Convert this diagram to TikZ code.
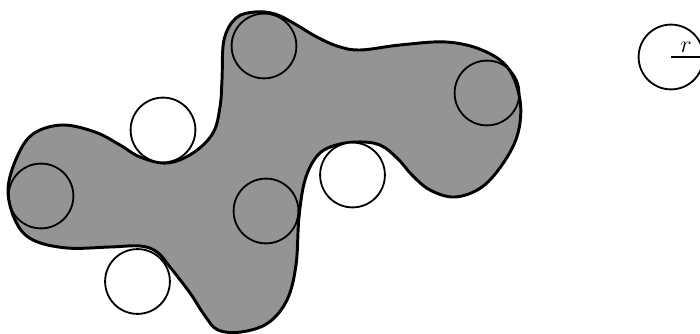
\documentclass[tikz,border=0pt]{standalone}
\begin{document}
\begin{tikzpicture}[
x=0.025cm, y=-0.025cm,
ball/.style={circle,draw,line width=1.3pt,minimum size=1.62cm,inner sep=0pt},
hole/.style={ball,fill=white},
blob/.style={draw,line width=2.1pt,fill=black!42}
]
\useasboundingbox (0,0) rectangle (700,334);
% the region swept out
\path[blob] plot[smooth cycle,tension=0.6] coordinates {
	(224,40) (236,18) (255,12) (275,14) (295,24) (315,36) (337,46) (360,50)
	(400,45) (446,42) (482,50) (508,68) (520,100) (518,133) (504,162)
	(482,187) (455,197) (430,190) (412,175) (398,159) (380,145) (357,142)
	(333,146) (317,156) (305,180) (299,217) (296,265) (287,300) (268,323)
	(241,332) (218,330) (205,316) (190,293) (170,267) (157,252) (140,246)
	(110,247) (67,248) (33,240) (16,222) (8,190) (17,157) (33,134) (62,125)
	(95,132) (120,145) (140,157) (167,163) (193,153) (213,133) (220,107) (222,80)
};
% balls inside
\node[ball] (top) at (264,46) {};
\node[ball] (right) at (487,93) {};
\node[ball] (left) at (41,196) {};
\node[ball] (mid) at (266,211) {};
% balls outside
\node[hole] (upper) at (163,130) {};
\node[hole] (lower) at (137.5,281.5) {};
\node[hole] (side) at (352.5,175) {};
% radius
\node[ball] (key) at (671,57) {};
\draw[line width=2.1pt] (key.center) -- (key.east) node[pos=0.45,above,inner sep=2pt] {\LARGE $r$};
\end{tikzpicture}
\end{document}
